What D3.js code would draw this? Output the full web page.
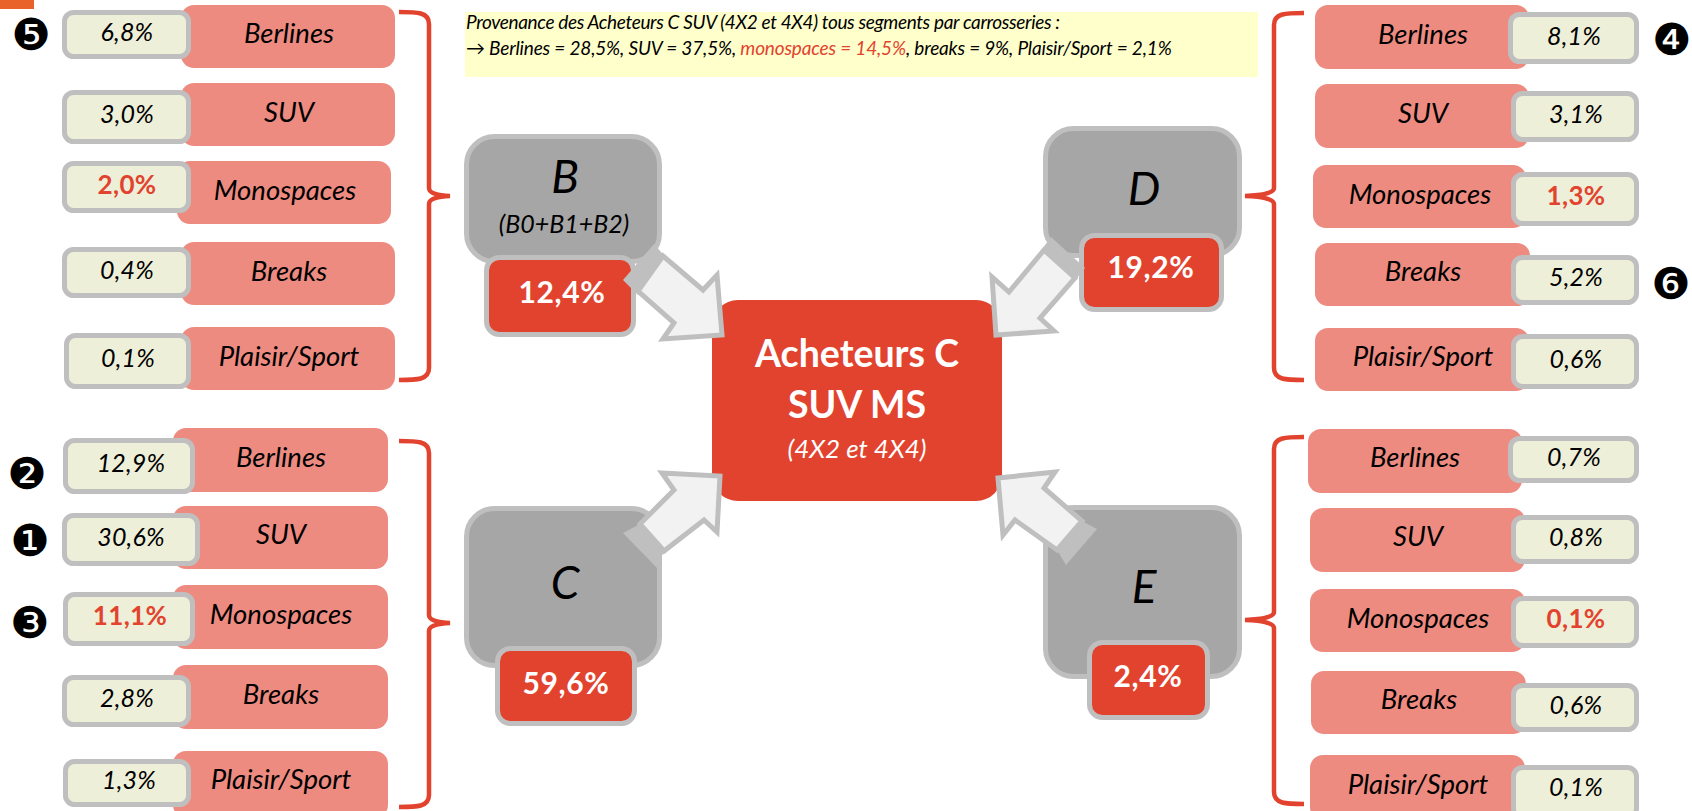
<!DOCTYPE html>
<html><head><meta charset="utf-8">
<script src="https://cdn.jsdelivr.net/npm/d3@7"></script>
<style>html,body{margin:0;padding:0;background:#fff;overflow:hidden}svg{display:block}text{font-family:Lato,sans-serif}</style>
</head><body><svg id="c" width="1692" height="811"></svg>
<script>
// ---------- data ----------
const categories = ["Berlines","SUV","Monospaces","Breaks","Plaisir/Sport"];
const segments = ["B","C","D","E"];
const segmentNotes = ["(B0+B1+B2)","","",""];
const segmentTotals = [12.4,59.6,19.2,2.4];
const valuesB = [6.8,3.0,2.0,0.4,0.1];
const valuesC = [12.9,30.6,11.1,2.8,1.3];
const valuesD = [8.1,3.1,1.3,5.2,0.6];
const valuesE = [0.7,0.8,0.1,0.6,0.1];
const centreTitle = ["Acheteurs C","SUV MS"];
const centreNote = "(4X2 et 4X4)";
const noteLine1 = "Provenance des Acheteurs C SUV (4X2 et 4X4) tous segments par carrosseries  :";
const noteLine2 = [["→ Berlines = 28,5%, SUV = 37,5%, ",false],["monospaces = 14,5%",true],[", breaks = 9%, Plaisir/Sport = 2,1%",false]];
const ranks = ["❺","❹","❻","❷","❶","❸"];

// ---------- layout (separate from data) ----------
const rowsLayout = {
 B:{pink:[[181,5,395,68],[181,83,395,146],[177,161,391,224],[181,242,395,305],[181,327,395,390]],
    box:[[62,10,191,59],[62,90,191,144],[62,161,191,213],[62,247,191,298],[64,333,191,389]],
    lab:[[289,43],[289,122],[285,200],[289,281],[289,366]],
    val:[[127,41],[127,123],[127,194],[127,279],[128,367]]},
 D:{pink:[[1315,5,1529,69],[1315,84,1529,148],[1313,165,1526,228],[1315,243,1530,306],[1315,328,1529,391]],
    box:[[1508,12,1639,64],[1511,91,1639,142],[1511,172,1639,226],[1511,255,1639,305],[1511,334,1639,389]],
    lab:[[1423,44],[1423,123],[1420,204],[1423,281],[1423,366]],
    val:[[1574,45],[1576,123],[1576,205],[1576,286],[1576,368]]},
 C:{pink:[[173,428,388,492],[173,506,388,569],[173,585,388,649],[173,665,388,729],[173,751,388,818]],
    box:[[63,438,195,494],[62,513,200,566],[63,592,195,646],[62,675,191,727],[63,759,191,807]],
    lab:[[281,467],[281,544],[281,624],[281,704],[281,789]],
    val:[[131,472],[131,546],[130,625],[127,707],[129,789]]},
 E:{pink:[[1308,429,1522,493],[1310,508,1525,572],[1310,589,1525,652],[1311,671,1526,734],[1310,755,1525,820]],
    box:[[1508,436,1639,483],[1511,515,1639,564],[1511,596,1639,648],[1511,683,1639,732],[1511,765,1639,820]],
    lab:[[1415,467],[1418,546],[1418,628],[1419,709],[1418,794]],
    val:[[1574,466],[1576,546],[1576,628],[1576,714],[1576,796]]}
};
const segLayout = {
 B:{box:[464,134,662,264],tot:[484,255,636,337],letter:[565,193],note:[564,233],totText:[562,303]},
 C:{box:[464,506,662,668],tot:[495,646,637,726],letter:[565,599],totText:[566,694]},
 D:{box:[1043,126,1242,258],tot:[1079,233,1224,312],letter:[1144,205],totText:[1151,278]},
 E:{box:[1043,505,1242,679],tot:[1087,640,1210,720],letter:[1144,603],totText:[1148,687]}
};
const braces = [[399,429,450,12,196,380],[1304,1274,1245,13,196,380],[399,429,450,441,623,807],[1304,1274,1245,437,620,804]];
const arrows = [
 {tail:[[654,244],[623,280],[638,295],[668,260]],body:[[663,256],[703,290],[717,275],[722,335],[663,339],[674,323],[638,291]]},
 {tail:[[1051,237],[1085,268],[1072,284],[1040,252]],body:[[1044,250],[1075,278],[1040,318],[1054,331],[996,335],[992,277],[1009,292]]},
 {tail:[[623,533],[657,568],[664,551],[640,524]],body:[[640,524],[664,551],[704,520],[717,532],[720,476],[662,473],[674,490]]},
 {tail:[[1097,529],[1066,565],[1057,550],[1082,521]],body:[[1082,521],[1057,550],[1015,520],[1003,535],[998,478],[1055,472],[1044,488]]}
];
const rankPos = [[31,34],[1672,39],[1671,283],[27,473],[30,540],[30,622]];
const colors = {pink:"#ee8b80",cream:"#eeefd8",grey:"#bfbfbf",dark:"#a6a6a6",red:"#e2432e",yellow:"#ffffcc",arrow:"#f2f2f2"};

// ---------- drawing ----------
const svg = d3.select("#c");
const fmt = d3.formatLocale({decimal:",",thousands:" ",grouping:[3],currency:["","€"]}).format(".1f");
const pct = v => fmt(v)+"%";
const series = {B:valuesB,C:valuesC,D:valuesD,E:valuesE};

function rrect(sel,b,r,fill,stroke,sw){
  return sel.append("rect").attr("x",b[0]+sw/2).attr("y",b[1]+sw/2)
    .attr("width",b[2]-b[0]-sw).attr("height",b[3]-b[1]-sw).attr("rx",r)
    .attr("fill",fill).attr("stroke",stroke||"none").attr("stroke-width",sw);
}
function txt(sel,p,s,size,opt={}){
  return sel.append("text").attr("x",p[0]).attr("y",p[1]).attr("text-anchor",opt.anchor||"middle")
    .attr("font-size",size).attr("font-style",opt.style||"italic").attr("font-weight",opt.weight||400)
    .attr("fill",opt.fill||"#000").attr("letter-spacing",opt.ls||0).text(s);
}
svg.append("rect").attr("x",0).attr("y",0).attr("width",34).attr("height",9).attr("fill","#e8622a");

// note
rrect(svg,[465,12,1258,77],0,colors.yellow,null,0);
txt(svg,[466,29],noteLine1,19,{anchor:"start",ls:-0.35});
const l2 = txt(svg,[466,55],"",19,{anchor:"start",ls:-0.17});
l2.selectAll("tspan").data(noteLine2).join("tspan").attr("fill",d=>d[1]?colors.red:"#000").text(d=>d[0]);

// rows
Object.keys(rowsLayout).forEach(k=>{
  const L = rowsLayout[k], vals = series[k];
  const g = svg.append("g");
  categories.forEach((c,i)=>{
    rrect(g,L.pink[i],13,colors.pink,null,0);
    txt(g,L.lab[i],c,27.5);
  });
  categories.forEach((c,i)=>{
    rrect(g,L.box[i],9,colors.cream,colors.grey,5);
    const mono = c==="Monospaces";
    txt(g,L.val[i],pct(vals[i]),mono?26:25,mono?{style:"normal",weight:700,fill:colors.red,ls:0.4}:{ls:0.2});
  });
});

// braces
svg.selectAll("path.brace").data(braces).join("path").attr("class","brace")
  .attr("fill","none").attr("stroke",colors.red).attr("stroke-width",4.5)
  .attr("d",([x0,xm,xt,yT,yM,yB])=>{
    const s = Math.sign(xm-x0), i = s*6;
    return `M${x0},${yT} C${xm-i*2},${yT} ${xm},${yT} ${xm},${yT+12} L${xm},${yM-8}`+
      ` Q${xm},${yM-1} ${xt},${yM} Q${xm},${yM+1} ${xm},${yM+8} L${xm},${yB-12}`+
      ` C${xm},${yB} ${xm-i*2},${yB} ${x0},${yB}`;
  });

// segment boxes
segments.forEach((k,i)=>{
  const S = segLayout[k];
  rrect(svg,S.box,28,colors.dark,colors.grey,5);
  txt(svg,S.letter,k,46);
  if(segmentNotes[i]) txt(svg,S.note,segmentNotes[i],25);
  rrect(svg,S.tot,13,colors.red,colors.grey,5);
  txt(svg,S.totText,pct(segmentTotals[i]),30,{style:"normal",weight:700,fill:"#fff",ls:0.6});
});

// centre
rrect(svg,[712,300,1002,501],26,colors.red,null,0);
centreTitle.forEach((t,i)=>txt(svg,[857,367+i*51],t,37.5,{style:"normal",weight:700,fill:"#fff"}));
txt(svg,[857,458],centreNote,26,{fill:"#fff"});

// arrows
const line = d3.line().curve(d3.curveLinearClosed);
arrows.forEach(a=>{
  svg.append("path").attr("d",line(a.tail)).attr("fill",colors.grey);
  svg.append("path").attr("d",line(a.body)).attr("fill",colors.arrow).attr("stroke",colors.grey).attr("stroke-width",5).attr("stroke-linejoin","miter");
});

// ranks
ranks.forEach((r,i)=>{
  svg.append("text").attr("x",rankPos[i][0]).attr("y",rankPos[i][1]).attr("dy","0.36em")
    .attr("text-anchor","middle").attr("font-size",44).style("font-family","'DejaVu Sans'").attr("fill","#000").text(r);
});
</script></body></html>
